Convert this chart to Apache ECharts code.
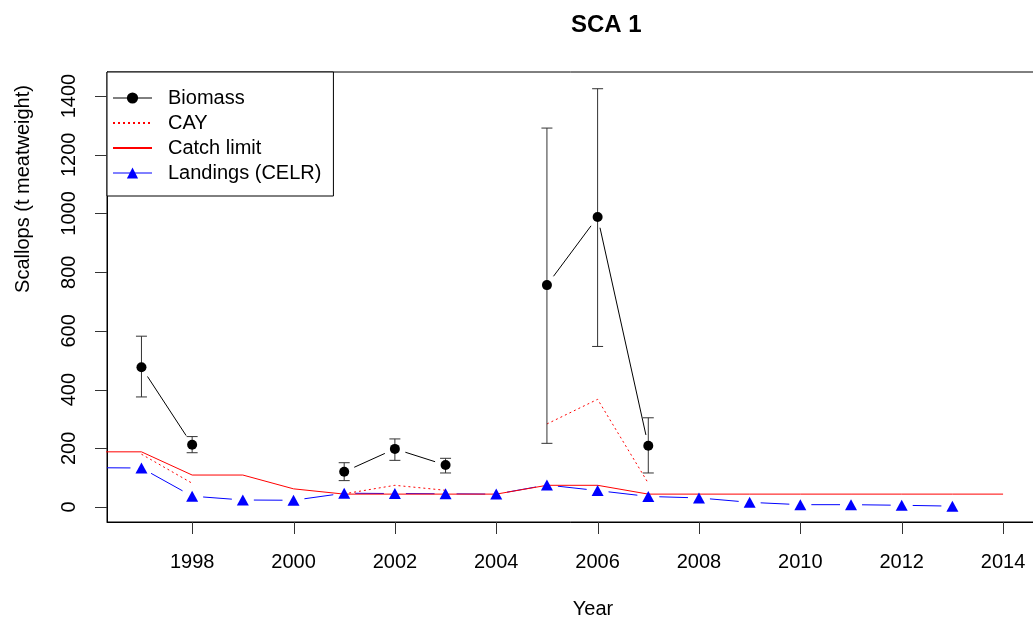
<!DOCTYPE html>
<html>
<head>
<meta charset="utf-8">
<script src="https://cdn.jsdelivr.net/npm/echarts@6/dist/echarts.min.js"></script>
<style>
  html, body { margin: 0; padding: 0; background: #fff; }
  #chart { width: 1033px; height: 621px; }
</style>
</head>
<body>
<div id="chart"></div>
<script>
// data
const limitYears = [1996, 1997, 1998, 1999, 2000, 2001, 2002, 2003, 2004, 2005, 2006, 2007, 2008, 2009, 2010, 2011, 2012, 2013, 2014]
const catchLimit = [188, 188, 109, 109, 62, 44, 44, 44, 44, 74, 74, 44, 44, 44, 44, 44, 44, 44, 44]

const landYears = [1996, 1997, 1998, 1999, 2000, 2001, 2002, 2003, 2004, 2005, 2006, 2007, 2008, 2009, 2010, 2011, 2012, 2013]
const landings = [134, 133, 37, 24, 23, 47, 46, 45, 44, 75, 56, 36, 31, 16, 8, 8, 6, 3]

const surveyYears = [1997, 1998, 1999, 2000, 2001, 2002, 2003, 2004, 2005, 2006, 2007]
const biomass = [476, 212, null, null, 120, 198, 143, null, 756, 988, 209]
const biomassLow = [375, 185, null, null, 90, 159, 116, null, 217, 547, 116]
const biomassHigh = [582, 240, null, null, 151, 232, 166, null, 1291, 1425, 304]
const cay = [180, 81, null, null, 45, 74, 57, null, 283, 367, 81]

const xTicks = [1998, 2000, 2002, 2004, 2006, 2008, 2010, 2012, 2014]
const yTicks = [0, 200, 400, 600, 800, 1000, 1200, 1400]

const font = 'Liberation Sans, Arial, sans-serif'
const xMin = 1996.32, xMax = 2014.63
const yMin = -51, yMax = 1482
const tickLen = 12

let zip = (xs, ys) => xs.map((x, i) => [x, ys[i]])
// segments between consecutive points (R type = "b")
let pairs = (xs, ys) => {
  let out = []
  for (let i = 0; i < xs.length - 1; i++) {
    if (ys[i] != null && ys[i + 1] != null) out.push([xs[i], ys[i], xs[i + 1], ys[i + 1]])
  }
  return out
}
let gapSegment = (gap, color) => (params, api) => {
  let a = api.coord([api.value(0), api.value(1)])
  let b = api.coord([api.value(2), api.value(3)])
  let dx = b[0] - a[0], dy = b[1] - a[1]
  let len = Math.sqrt(dx * dx + dy * dy)
  if (len <= 2 * gap) return
  let ux = dx / len, uy = dy / len
  return {
    type: 'line',
    shape: { x1: a[0] + ux * gap, y1: a[1] + uy * gap, x2: b[0] - ux * gap, y2: b[1] - uy * gap },
    style: { stroke: color, lineWidth: 1 }
  }
}

let chart = echarts.init(document.getElementById('chart'))
let option = {
  animation: false,
  title: {
    text: 'SCA 1',
    left: 571,
    top: 13,
    padding: 0,
    textStyle: { fontSize: 24, fontWeight: 'bold', color: '#000', fontFamily: font }
  },
  grid: {
    left: 107,
    right: -2,
    top: 72,
    bottom: 99,
    outerBoundsMode: 'none',
    show: true,
    borderColor: '#000',
    borderWidth: 1
  },
  legend: {
    left: 107,
    top: 72,
    orient: 'vertical',
    backgroundColor: '#fff',
    borderColor: '#000',
    borderWidth: 1,
    padding: [16, 12, 13, 5],
    itemWidth: 39,
    itemHeight: 14,
    itemGap: 5,
    textStyle: { fontSize: 20, lineHeight: 20, color: '#000', fontFamily: font, padding: [0, 0, 0, 11] },
    data: [
      { name: 'Biomass', lineStyle: { opacity: 1, width: 1, color: '#000' } },
      { name: 'CAY', itemStyle: { opacity: 0 } },
      { name: 'Catch limit', itemStyle: { opacity: 0 } },
      { name: 'Landings (CELR)', lineStyle: { opacity: 1, width: 1, color: '#0000ff' } }
    ]
  },
  xAxis: {
    type: 'value',
    min: xMin,
    max: xMax,
    splitLine: { show: false },
    axisLine: { show: true, onZero: false, lineStyle: { color: '#000' } },
    axisTick: { show: false },
    axisLabel: { customValues: xTicks, margin: 30, fontSize: 20, color: '#000', fontFamily: font, formatter: v => String(v) }
  },
  yAxis: {
    type: 'value',
    min: yMin,
    max: yMax,
    splitLine: { show: false },
    axisLine: { show: true, onZero: false, lineStyle: { color: '#000' } },
    axisTick: { show: false },
    axisLabel: { customValues: yTicks, rotate: 90, margin: 28, fontSize: 20, color: '#000', fontFamily: font, formatter: v => String(v) }
  },
  series: [
    {
      name: 'Catch limit',
      type: 'line',
      data: zip(limitYears, catchLimit),
      symbol: 'none',
      color: '#ff0000',
      lineStyle: { color: '#ff0000', width: 1 },
      z: 3
    },
    {
      name: 'CAY',
      type: 'line',
      data: zip(surveyYears, cay),
      symbol: 'none',
      connectNulls: false,
      color: '#ff0000',
      lineStyle: { color: '#ff0000', width: 1, type: [2, 3] },
      z: 3
    },
    {
      name: 'Landings (CELR)',
      type: 'line',
      data: zip(landYears, landings),
      symbol: 'triangle',
      symbolSize: [12, 11],
      color: '#0000ff',
      itemStyle: { color: '#0000ff' },
      lineStyle: { opacity: 0 },
      z: 4
    },
    {
      type: 'custom',
      clip: true,
      data: pairs(landYears, landings),
      encode: { x: [0, 2], y: [1, 3] },
      renderItem: gapSegment(11, '#0000ff'),
      silent: true,
      z: 2
    },
    {
      type: 'custom',
      clip: true,
      data: surveyYears.map((y, i) => [y, biomassLow[i], biomassHigh[i]]).filter(d => d[1] != null),
      encode: { x: 0, y: [1, 2] },
      renderItem: (params, api) => {
        let x = api.value(0)
        let lo = api.coord([x, api.value(1)])
        let hi = api.coord([x, api.value(2)])
        let w = 5.5
        let st = { stroke: '#333', lineWidth: 1 }
        return {
          type: 'group',
          children: [
            { type: 'line', shape: { x1: lo[0], y1: lo[1], x2: hi[0], y2: hi[1] }, style: st },
            { type: 'line', shape: { x1: lo[0] - w, y1: lo[1], x2: lo[0] + w, y2: lo[1] }, style: st },
            { type: 'line', shape: { x1: hi[0] - w, y1: hi[1], x2: hi[0] + w, y2: hi[1] }, style: st }
          ]
        }
      },
      silent: true,
      z: 5
    },
    {
      type: 'custom',
      clip: true,
      data: pairs(surveyYears, biomass),
      encode: { x: [0, 2], y: [1, 3] },
      renderItem: gapSegment(11, '#000'),
      silent: true,
      z: 5
    },
    {
      name: 'Biomass',
      type: 'line',
      data: zip(surveyYears, biomass),
      symbol: 'circle',
      symbolSize: 10,
      color: '#000',
      itemStyle: { color: '#000' },
      lineStyle: { opacity: 0 },
      connectNulls: false,
      z: 6
    }
  ]
}
chart.setOption(option)

// R-style outward ticks and axis titles, placed with the chart's own scales
let bottom = chart.convertToPixel({ yAxisIndex: 0 }, yMin)
let left = chart.convertToPixel({ xAxisIndex: 0 }, xMin)
let tickStyle = { stroke: '#333', lineWidth: 1 }
let graphics = []
xTicks.forEach(v => {
  let x = Math.round(chart.convertToPixel({ xAxisIndex: 0 }, v)) + 0.5
  graphics.push({ type: 'line', z: 10, shape: { x1: x, y1: bottom, x2: x, y2: bottom + tickLen }, style: tickStyle })
})
yTicks.forEach(v => {
  let y = Math.round(chart.convertToPixel({ yAxisIndex: 0 }, v)) + 0.5
  graphics.push({ type: 'line', z: 10, shape: { x1: left - tickLen, y1: y, x2: left, y2: y }, style: tickStyle })
})
graphics.push({
  type: 'text',
  x: 23,
  y: 189,
  rotation: Math.PI / 2,
  style: { text: 'Scallops (t meatweight)', fontSize: 20, fontFamily: font, fill: '#000', align: 'center', verticalAlign: 'middle' }
})
graphics.push({
  type: 'text',
  x: 593,
  y: 609,
  style: { text: 'Year', fontSize: 20, fontFamily: font, fill: '#000', align: 'center', verticalAlign: 'middle' }
})
chart.setOption({ graphic: graphics })
</script>
</body>
</html>
